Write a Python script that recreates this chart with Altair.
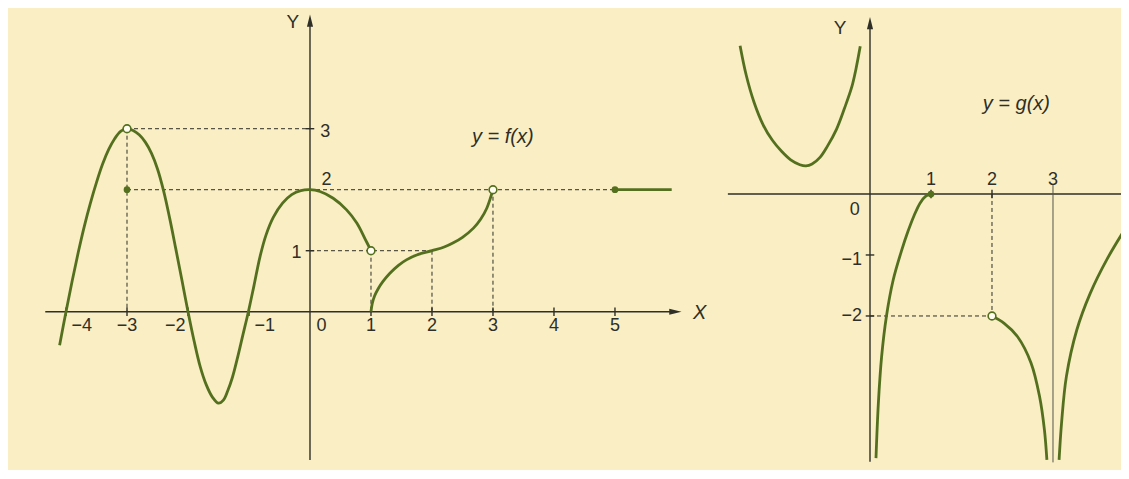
import altair as alt
import pandas as pd

# ---------------- data ----------------
# f(x), left graph
f1_x = [-4.105, -4.0, -3.9, -3.8, -3.7, -3.6, -3.5, -3.4, -3.3, -3.2, -3.1, -3.0,
        -2.9, -2.8, -2.7, -2.6, -2.5, -2.4, -2.3, -2.2, -2.1, -2.0,
        -1.9, -1.8, -1.7, -1.6, -1.5, -1.42, -1.35, -1.27, -1.18, -1.1, -1.01,
        -0.92, -0.82, -0.72, -0.6, -0.45, -0.3, -0.15, 0.0,
        0.164, 0.38, 0.6, 0.77, 0.9, 1.0]
f1_y = [-0.55, 0.0, 0.5, 0.97, 1.4, 1.78, 2.12, 2.42, 2.66, 2.84, 2.96, 3.0,
        2.97, 2.9, 2.78, 2.6, 2.34, 1.98, 1.53, 1.03, 0.52, 0.0,
        -0.48, -0.9, -1.2, -1.4, -1.5, -1.45, -1.3, -1.07, -0.72, -0.38, 0.0,
        0.42, 0.9, 1.26, 1.55, 1.78, 1.92, 1.985, 2.0,
        1.97, 1.86, 1.67, 1.45, 1.2, 1.0]
f2_x = [1.0, 1.02, 1.06, 1.12, 1.2, 1.31, 1.45, 1.58, 1.75, 2.0, 2.2, 2.35, 2.5,
        2.68, 2.8, 2.9, 3.0]
f2_y = [0.0, 0.13, 0.26, 0.38, 0.5, 0.63, 0.76, 0.85, 0.93, 1.0, 1.06, 1.13, 1.22,
        1.37, 1.52, 1.7, 2.0]
f3_x = [5.0, 5.93]
f3_y = [2.0, 2.0]

f_open_x = [-3, 1, 3]
f_open_y = [3, 1, 2]
f_fill_x = [-3, 5]
f_fill_y = [2, 2]

# dashed guides (x, y, x2, y2)
f_dash = [(-3, 3, 0, 3), (-3, 3, -3, 0), (-3, 2, 5, 2), (0, 1, 2, 1),
          (1, 1, 1, 0), (2, 1, 2, 0), (3, 2, 3, 0)]

f_xtick_vals = [-4, -3, -2, -1, 1, 2, 3, 4, 5]
f_ytick_vals = [1, 2, 3]
f_xlab_text = ["\u22124", "\u22123", "\u22122", "\u22121", "0", "1", "2", "3", "4", "5"]
f_xlab_pos = [-3.74, -3.0, -2.21, -0.74, 0.19, 1, 2, 3, 4, 5]
f_ylab_text = ["3", "2", "1"]
f_ylab_x = [0.25, 0.27, -0.22]
f_ylab_y = [2.95, 2.16, 0.96]

# g(x), right graph
g1_x = [-2.13, -2.03, -1.9, -1.75, -1.6, -1.45, -1.3, -1.15, -1.05, -0.95, -0.82,
        -0.7, -0.55, -0.42, -0.3, -0.23, -0.16]
g1_y = [2.43, 1.95, 1.5, 1.13, 0.88, 0.7, 0.56, 0.48, 0.46, 0.49, 0.6,
        0.78, 1.06, 1.4, 1.75, 2.05, 2.42]
g2_x = [0.098, 0.137, 0.19, 0.27, 0.38, 0.52, 0.62, 0.72, 0.82, 0.91, 1.0]
g2_y = [-4.33, -3.43, -2.67, -2.0, -1.41, -0.92, -0.62, -0.36, -0.15, -0.04, 0.0]
g3_x = [2.0, 2.2, 2.42, 2.64, 2.78, 2.86, 2.9]
g3_y = [-2.0, -2.12, -2.34, -2.77, -3.32, -3.87, -4.36]
g4_x = [3.1, 3.14, 3.22, 3.39, 3.61, 3.88, 4.24]
g4_y = [-4.36, -3.76, -2.99, -2.23, -1.63, -1.08, -0.48]

g_open_x = [2]
g_open_y = [-2]
g_fill_x = [1]
g_fill_y = [0]
g_dash = [(2, 0, 2, -2), (0, -2, 2, -2)]
g_ytick_vals = [-1, -2]
g_xtick_vals = [1, 2]
g_lab_text = ["0", "1", "2", "3", "\u22121", "\u22122"]
g_lab_x = [-0.25, 1, 2, 3, -0.3, -0.3]
g_lab_y = [-0.26, 0.23, 0.23, 0.23, -1.08, -2.0]

# ---------------- style ----------------
BG = "#F9EEC4"
GREEN = "#54701E"
INK = "#2f2e27"
FONT = "Liberation Sans"
ARROW = "M0,-1L0.5,1L-0.5,1Z"


def curves_df(pieces):
    rows = []
    for p, (xs, ys) in enumerate(pieces):
        for i, (a, b) in enumerate(zip(xs, ys)):
            rows.append({"x": a, "y": b, "piece": p, "i": i})
    return pd.DataFrame(rows)


def panel(xdom, ydom, w, h, pieces, dashes, axis_segs, tick_segs, extra_rules,
          opens, fills, labels, styled_labels, arrows):
    xs = alt.Scale(domain=xdom, nice=False, zero=False)
    ys = alt.Scale(domain=ydom, nice=False, zero=False)
    X = alt.X("x:Q", scale=xs, axis=None)
    Y = alt.Y("y:Q", scale=ys, axis=None)
    layers = []

    seg = lambda L: pd.DataFrame(L, columns=["x", "y", "x2", "y2"])
    layers.append(alt.Chart(seg(dashes)).mark_rule(
        color=INK, strokeWidth=1, strokeDash=[4, 3]).encode(
        x=X, y=Y, x2="x2:Q", y2="y2:Q"))
    layers.append(alt.Chart(seg(axis_segs + tick_segs)).mark_rule(
        color=INK, strokeWidth=1.4, clip=True).encode(x=X, y=Y, x2="x2:Q", y2="y2:Q"))
    if extra_rules:
        layers.append(alt.Chart(seg(extra_rules)).mark_rule(
            color="#55544a", strokeWidth=1).encode(x=X, y=Y, x2="x2:Q", y2="y2:Q"))

    layers.append(alt.Chart(curves_df(pieces)).mark_line(
        interpolate="catmull-rom", color=GREEN, strokeWidth=2.8, clip=True).encode(
        x=X, y=Y, detail="piece:N", order="i:Q"))

    layers.append(alt.Chart(pd.DataFrame({"x": fills[0], "y": fills[1]})).mark_point(
        shape="circle", filled=True, color=GREEN, size=45, opacity=1).encode(x=X, y=Y))
    layers.append(alt.Chart(pd.DataFrame({"x": opens[0], "y": opens[1]})).mark_point(
        shape="circle", filled=True, fill="#FFFDF2", stroke=GREEN, strokeWidth=1.6,
        size=60, opacity=1).encode(x=X, y=Y))

    for (ax, ay, ang) in arrows:
        layers.append(alt.Chart(pd.DataFrame({"x": [ax], "y": [ay]})).mark_point(
            shape=ARROW, filled=True, color=INK, size=150, opacity=1, angle=ang).encode(x=X, y=Y))

    layers.append(alt.Chart(pd.DataFrame({"x": labels[0], "y": labels[1], "t": labels[2]})).mark_text(
        font=FONT, fontSize=18, color=INK, baseline="middle", align="center").encode(
        x=X, y=Y, text="t:N"))
    for (lx, ly, txt, style, size) in styled_labels:
        layers.append(alt.Chart(pd.DataFrame({"x": [lx], "y": [ly], "t": [txt]})).mark_text(
            font=FONT, fontSize=size, color=INK, baseline="middle", align="center",
            fontStyle=style).encode(x=X, y=Y, text="t:N"))

    return alt.layer(*layers).properties(width=w, height=h)


TK = 0.07  # half tick length (data units)

left = panel(
    xdom=[-4.951, 6.689], ydom=[-2.595, 4.979], w=710, h=462,
    pieces=[(f1_x, f1_y), (f2_x, f2_y), (f3_x, f3_y)],
    dashes=f_dash,
    axis_segs=[(-4.34, 0, 5.99, 0), (0, -2.43, 0, 4.77)],
    tick_segs=[(v, -TK, v, TK) for v in f_xtick_vals] + [(-TK, v, TK, v) for v in f_ytick_vals],
    extra_rules=[],
    opens=(f_open_x, f_open_y), fills=(f_fill_x, f_fill_y),
    labels=(f_xlab_pos + f_ylab_x, [-0.24] * len(f_xlab_pos) + f_ylab_y, f_xlab_text + f_ylab_text),
    styled_labels=[(-0.28, 4.75, "Y", "normal", 19), (6.39, -0.02, "X", "italic", 20),
                   (3.16, 2.87, "y = f(x)", "italic", 20)],
    arrows=[(0, 4.77, 0), (5.99, 0, 90)],
)

right = panel(
    xdom=[-2.492, 4.115], ydom=[-4.525, 3.049], w=403, h=462,
    pieces=[(g1_x, g1_y), (g2_x, g2_y), (g3_x, g3_y), (g4_x, g4_y)],
    dashes=g_dash,
    axis_segs=[(-2.33, 0, 4.115, 0), (0, -4.39, 0, 2.80)],
    tick_segs=[(-TK, v, TK, v) for v in g_ytick_vals] + [(v, -TK, v, TK) for v in g_xtick_vals],
    extra_rules=[(3, 0.15, 3, -4.4)],
    opens=(g_open_x, g_open_y), fills=(g_fill_x, g_fill_y),
    labels=(g_lab_x, g_lab_y, g_lab_text),
    styled_labels=[(-0.49, 2.72, "Y", "normal", 19), (2.4, 1.48, "y = g(x)", "italic", 20)],
    arrows=[(0, 2.80, 0)],
)

chart = alt.hconcat(left, right, spacing=0).properties(
    padding=0, background=BG
).configure_view(stroke=None)

chart.save("out.html", embed_options={"renderer": "svg", "actions": False})
